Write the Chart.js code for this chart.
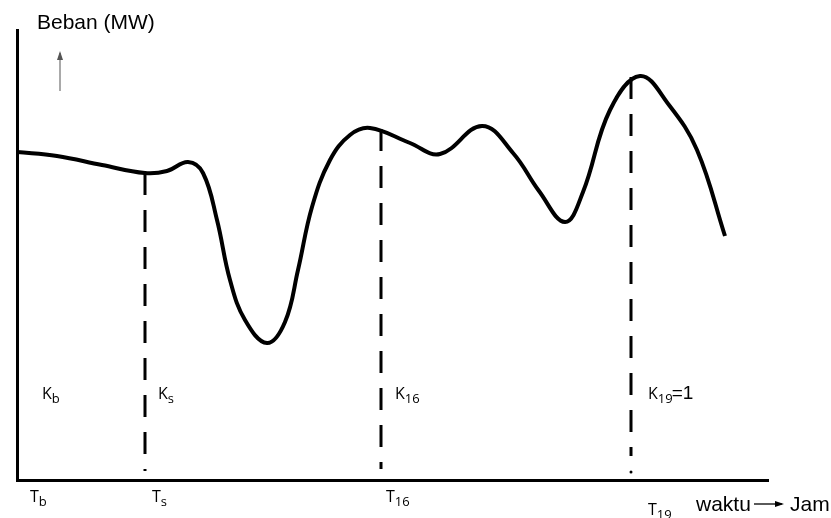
<!DOCTYPE html>
<html lang="id">
  <head>
    <meta charset="UTF-8">
    <title>Kurva Beban Harian</title>
    <script src="https://cdn.jsdelivr.net/npm/chart.js"></script>
    <style>
      body {
        margin: 0;
        background: #fff;
      }
      .chart-container {
        width: 831px;
        height: 518px;
      }
    </style>
  </head>
  <body>
    <div class="chart-container">
      <canvas id="bebanChart"></canvas>
    </div>
    <script>
      // load curve (waktu, beban) in arbitrary units
      const waktu = [0, 40, 85, 128, 150, 171, 186, 200, 213, 228, 250, 268, 281, 295, 313, 333, 353, 393, 423, 465, 496, 522, 548, 566, 593, 623, 652, 680, 708];
      const beban = [328, 324, 315, 307, 309, 318, 307, 260, 200, 160, 137, 158, 210, 273, 320, 345, 352, 337, 326, 354, 327, 289, 258, 288, 370, 404, 375, 330, 244];

      // dashed markers: x position, top (on the curve) and bottom
      const markerX = [128, 364, 614];
      const markerTop = [307, 351, 403];
      const markerBottom = [9, 11, 24];

      // text labels
      const kLabels = [['K', 'b', ''], ['K', 's', ''], ['K', '16', ''], ['K', '19', '=1']];
      const kX = [25, 141, 378, 631];
      const tLabels = [['T', 'b'], ['T', 's'], ['T', '16'], ['T', '19']];
      const tX = [13, 135, 369, 631];

      const curve = waktu.map((x, i) => ({ x: x, y: beban[i] }));

      const markerSets = markerX.map((x, i) => ({
        data: [{ x: x, y: markerTop[i] }, { x: x, y: markerBottom[i] }],
        borderColor: '#000',
        borderWidth: 3,
        borderDash: [22, 15],
        pointRadius: 0,
        tension: 0
      }));

      function drawSub(ctx, x, y, main, sub, tail, mainFont, subFont) {
        ctx.font = mainFont;
        ctx.fillText(main, x, y);
        let w = ctx.measureText(main).width;
        ctx.font = subFont;
        ctx.fillText(sub, x + w, y + 4);
        let w2 = ctx.measureText(sub).width;
        if (tail) {
          ctx.font = '19px "Liberation Sans", Arial, sans-serif';
          ctx.fillText(tail, x + w + w2 - 1, y);
        }
      }

      function arrow(ctx, x1, y1, x2, y2, color, width) {
        ctx.strokeStyle = color;
        ctx.fillStyle = color;
        ctx.lineWidth = width;
        ctx.beginPath();
        ctx.moveTo(x1, y1);
        ctx.lineTo(x2, y2);
        ctx.stroke();
        const a = Math.atan2(y2 - y1, x2 - x1);
        ctx.beginPath();
        ctx.moveTo(x2 + 2 * Math.cos(a), y2 + 2 * Math.sin(a));
        ctx.lineTo(x2 - 7 * Math.cos(a) + 3 * Math.sin(a), y2 - 7 * Math.sin(a) - 3 * Math.cos(a));
        ctx.lineTo(x2 - 7 * Math.cos(a) - 3 * Math.sin(a), y2 - 7 * Math.sin(a) + 3 * Math.cos(a));
        ctx.closePath();
        ctx.fill();
      }

      const labelPlugin = {
        id: 'labelPlugin',
        afterDraw(chart) {
          const ctx = chart.ctx;
          const xs = chart.scales.x;
          ctx.save();
          ctx.fillStyle = '#000';
          ctx.textBaseline = 'alphabetic';
          ctx.textAlign = 'left';
          // y axis title with arrow
          ctx.font = '21px "Liberation Sans", Arial, sans-serif';
          ctx.fillText('Beban (MW)', 37, 29);
          arrow(ctx, 60, 91, 60, 53, '#555', 1);
          // K labels
          ctx.fillStyle = '#000';
          kLabels.forEach((l, i) => {
            drawSub(ctx, xs.getPixelForValue(kX[i]), 399, l[0], l[1], l[2],
              '16px "Open Sans", sans-serif', '13px "Open Sans", sans-serif');
          });
          // T labels
          tLabels.forEach((l, i) => {
            const y = i === 3 ? 515 : 502;
            drawSub(ctx, xs.getPixelForValue(tX[i]), y, l[0], l[1], '',
              '16px "Open Sans", sans-serif', '13px "Open Sans", sans-serif');
          });
          // x axis title
          ctx.font = '21px "Liberation Sans", Arial, sans-serif';
          ctx.fillText('waktu', 696, 511);
          arrow(ctx, 754, 504, 782, 504, '#000', 1.3);
          ctx.fillStyle = '#000';
          ctx.fillText('Jam', 790, 511);
          // little dot under K19 marker
          ctx.beginPath();
          ctx.arc(xs.getPixelForValue(markerX[2]), 472, 1.5, 0, Math.PI * 2);
          ctx.fill();
          ctx.restore();
        }
      };

      const ctx = document.getElementById('bebanChart').getContext('2d');
      new Chart(ctx, {
        type: 'line',
        data: {
          datasets: [{
            data: curve,
            borderColor: '#000',
            borderWidth: 4,
            pointRadius: 0,
            tension: 0.4,
            fill: false
          }].concat(markerSets)
        },
        options: {
          responsive: true,
          maintainAspectRatio: false,
          animation: false,
          layout: {
            padding: { left: 9, top: 30, right: 63, bottom: 30 }
          },
          plugins: {
            legend: { display: false },
            tooltip: { enabled: false }
          },
          scales: {
            x: {
              type: 'linear',
              min: 0,
              max: 751,
              grid: { display: false },
              ticks: { display: false },
              border: { display: true, color: '#000', width: 3 }
            },
            y: {
              min: 0,
              max: 450,
              grid: { display: false },
              ticks: { display: false },
              border: { display: true, color: '#000', width: 3 }
            }
          }
        },
        plugins: [labelPlugin]
      });
    </script>
  </body>
</html>
